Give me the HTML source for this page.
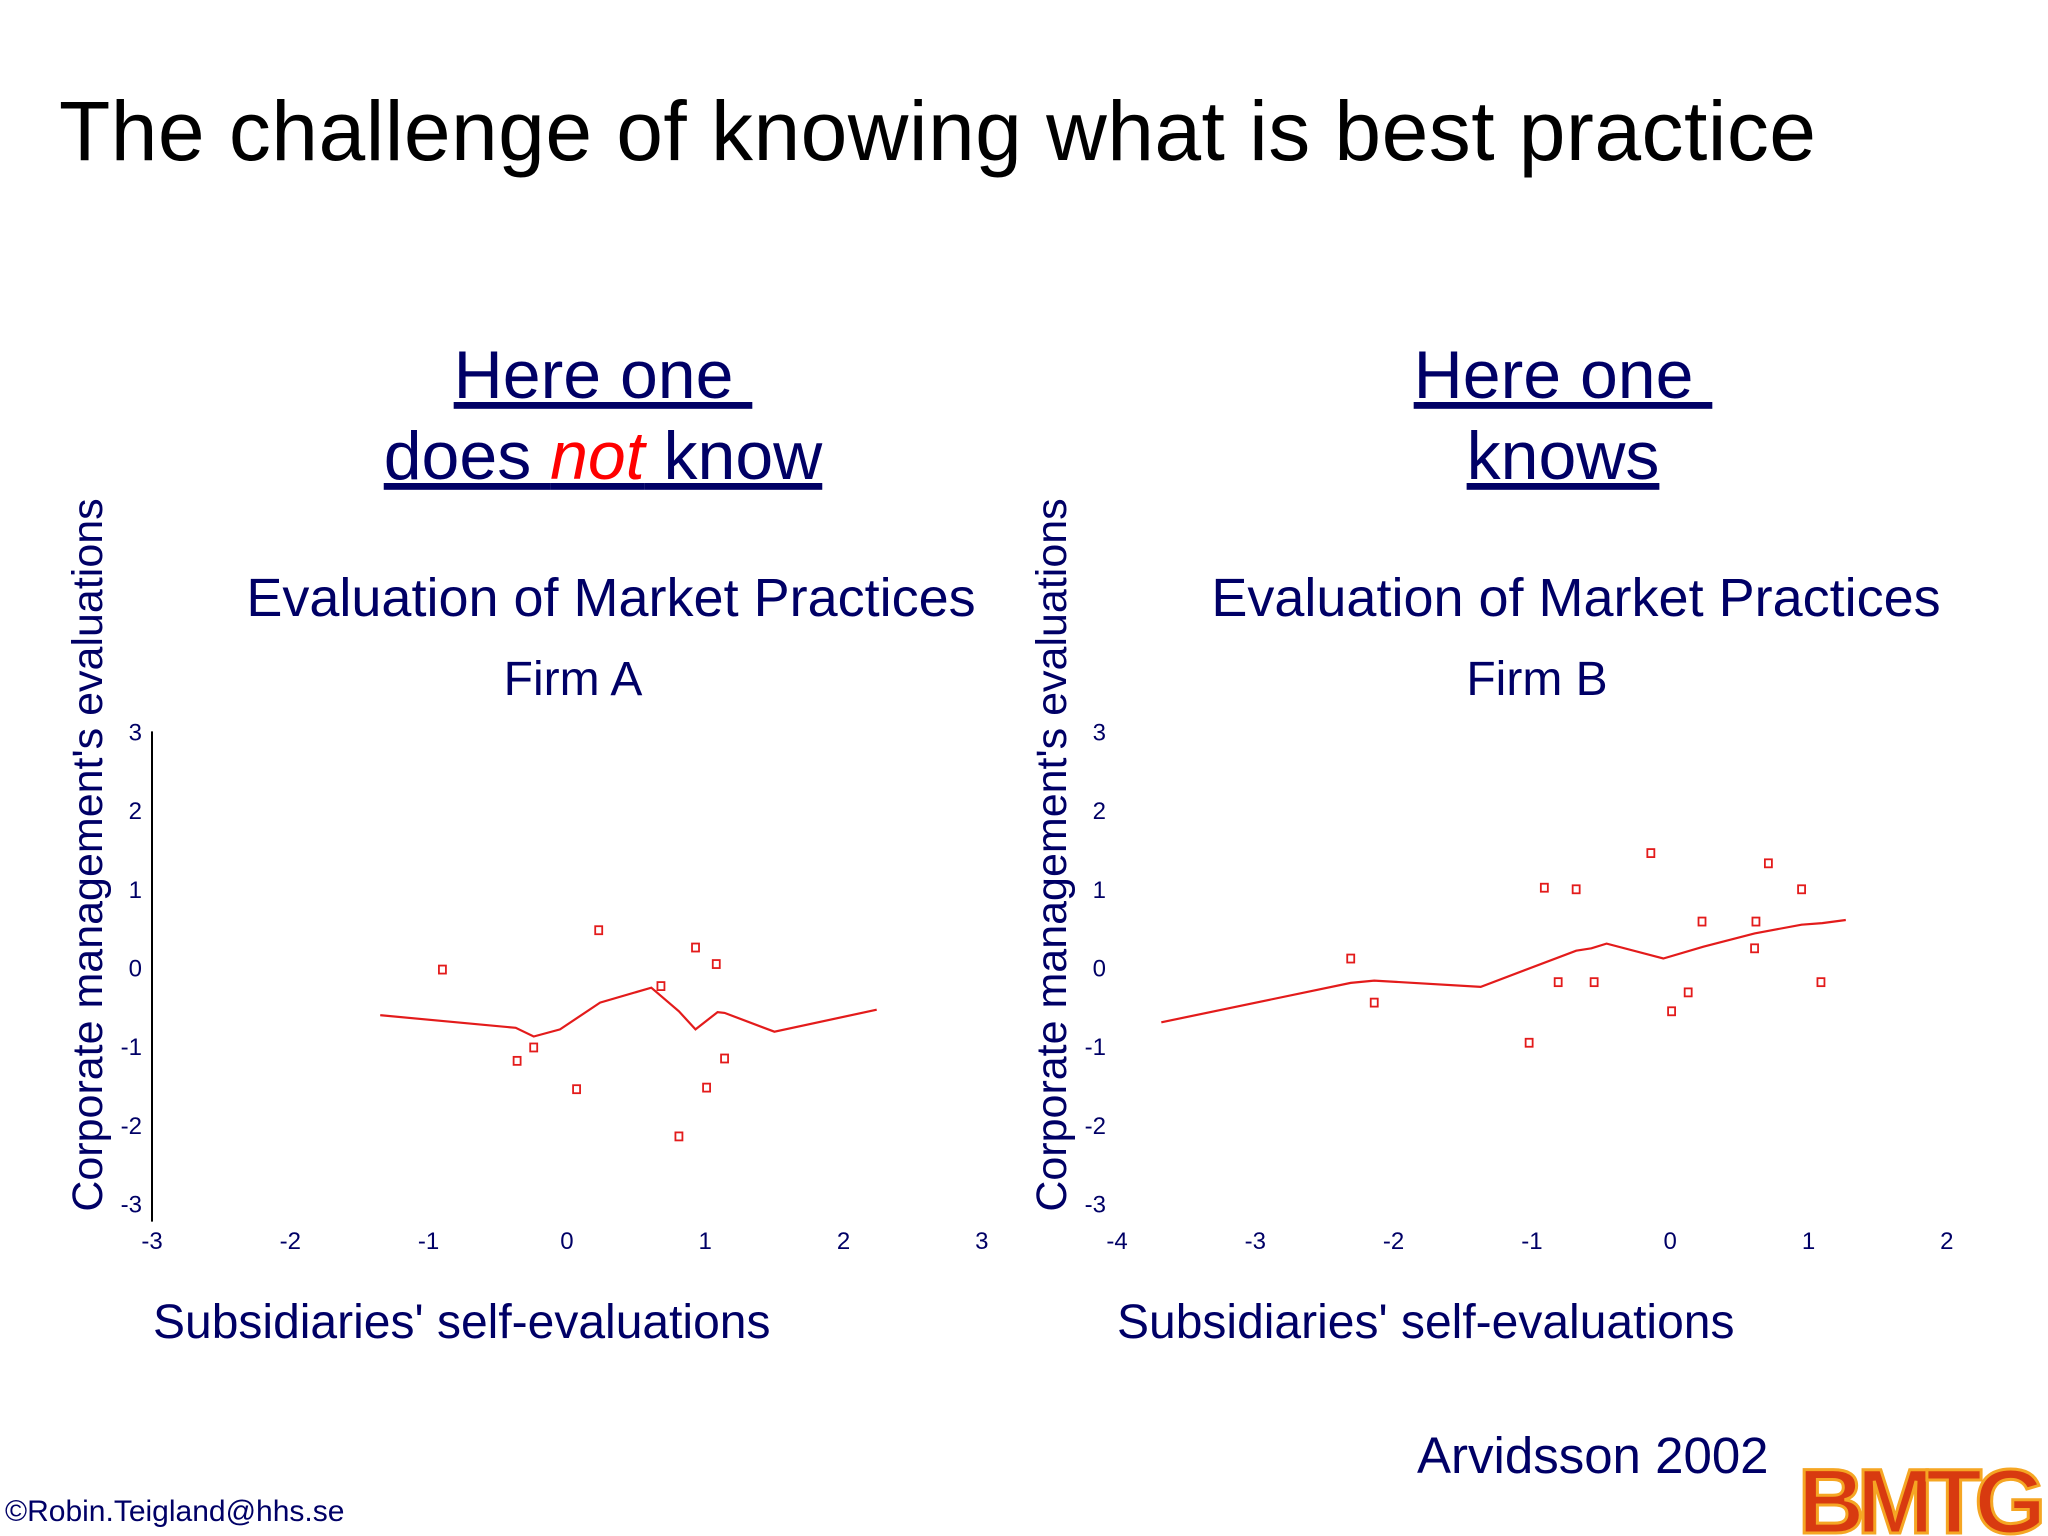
<!DOCTYPE html>
<html><head><meta charset="utf-8"><style>
body{margin:0;background:#fff}
svg{display:block}
text{font-family:"Liberation Sans",sans-serif}
</style></head><body>
<svg id="s" width="2048" height="1536" viewBox="0 0 2048 1536">
<text x="59" y="160" font-size="84" fill="#000" textLength="1757">The challenge of knowing what is best practice</text>
<g fill="#000066" font-size="68" text-anchor="middle" text-decoration="underline">
<text x="603" y="398">Here one&#160;</text>
<text x="603" y="479">does&#160;<tspan fill="#ff0000" font-style="italic">not</tspan>&#160;know</text>
<text x="1563" y="398">Here one&#160;</text>
<text x="1563" y="479">knows</text>
</g>
<g fill="#000066" text-anchor="middle">
<text x="611" y="616" font-size="54">Evaluation of Market Practices</text>
<text x="1576" y="616" font-size="54">Evaluation of Market Practices</text>
<text x="573" y="695" font-size="48">Firm A</text>
<text x="1537" y="695" font-size="48">Firm B</text>
<text transform="translate(102,855) rotate(-90)" font-size="43">Corporate management's evaluations</text>
<text transform="translate(1066,855) rotate(-90)" font-size="43">Corporate management's evaluations</text>
</g>
<g fill="#000066" font-size="48">
<text x="153" y="1338">Subsidiaries' self-evaluations</text>
<text x="1117" y="1338">Subsidiaries' self-evaluations</text>
<text x="1417" y="1473" font-size="51">Arvidsson 2002</text>
<text x="5" y="1521" font-size="30">©Robin.Teigland@hhs.se</text>
</g>
<text x="1798" y="1533" font-family="Liberation Serif,serif" font-weight="bold" font-size="92" fill="#d83a10" stroke="#f5a623" stroke-width="3" textLength="248">BMTG</text>
<g id="ca"></g>
<g id="cb"></g>
</svg>
<script>
const xTicksA=[-3,-2,-1,0,1,2,3];
const xTicksB=[-4,-3,-2,-1,0,1,2];
const yTicks=[-3,-2,-1,0,1,2,3];
const ptsAx=[-0.90,0.23,0.93,1.08,0.68,-0.24,-0.36,1.14,0.07,1.01,0.81];
const ptsAy=[0.05,0.55,0.33,0.12,-0.16,-0.94,-1.11,-1.08,-1.47,-1.45,-2.07];
const lineAx=[-1.35,-0.37,-0.24,-0.05,0.24,0.61,0.81,0.93,1.09,1.14,1.50,2.24];
const lineAy=[-0.53,-0.69,-0.80,-0.71,-0.37,-0.18,-0.48,-0.71,-0.49,-0.50,-0.74,-0.46];
const ptsBx=[-2.31,-2.14,-1.02,-0.91,-0.68,-0.81,-0.55,-0.14,0.23,0.13,0.01,0.62,0.61,0.71,0.95,1.09];
const ptsBy=[0.19,-0.37,-0.88,1.09,1.07,-0.11,-0.11,1.53,0.66,-0.24,-0.48,0.66,0.32,1.40,1.07,-0.11];
const lineBx=[-3.68,-2.31,-2.14,-1.37,-0.68,-0.57,-0.46,-0.05,0.24,0.61,0.95,1.10,1.27];
const lineBy=[-0.62,-0.12,-0.09,-0.17,0.29,0.32,0.38,0.19,0.34,0.51,0.62,0.64,0.68];
const NS='http://www.w3.org/2000/svg';
function mk(p,t,a){const e=document.createElementNS(NS,t);for(const k in a)e.setAttribute(k,a[k]);p.appendChild(e);return e;}
const yS=v=>973.5-v*78.7;
function chart(g,x0,xmin,xT,px,py,lx,ly,axisLine,ylabX){
  const xS=v=>x0+(v-xmin)*138.3;
  if(axisLine){const l=mk(g,'line',{x1:x0,y1:yS(3)-6,x2:x0,y2:yS(-3)+12,stroke:'#000','stroke-width':2});
    }
  yTicks.forEach(v=>{const t=mk(g,'text',{x:ylabX,y:yS(v)+3,'font-size':24,fill:'#000066','text-anchor':'end'});t.textContent=v;
    });
  xT.forEach(v=>{const t=mk(g,'text',{x:xS(v),y:1249,'font-size':24,fill:'#000066','text-anchor':'middle'});t.textContent=v;
    });
  const d=lx.map((v,i)=>(i?'L':'M')+xS(v).toFixed(1)+','+yS(ly[i]).toFixed(1)).join('');
  const p=mk(g,'path',{d:d,fill:'none',stroke:'#e31b1b','stroke-width':2.2});
  
  px.forEach((v,i)=>{const r=mk(g,'rect',{x:xS(v)-3.5,y:yS(py[i])-4,width:7,height:8,fill:'none',stroke:'#e31b1b','stroke-width':1.8});
    });
}
chart(document.getElementById('ca'),152,-3,xTicksA,ptsAx,ptsAy,lineAx,lineAy,true,142);
chart(document.getElementById('cb'),1117,-4,xTicksB,ptsBx,ptsBy,lineBx,lineBy,false,1106);
</script>
</body></html>
